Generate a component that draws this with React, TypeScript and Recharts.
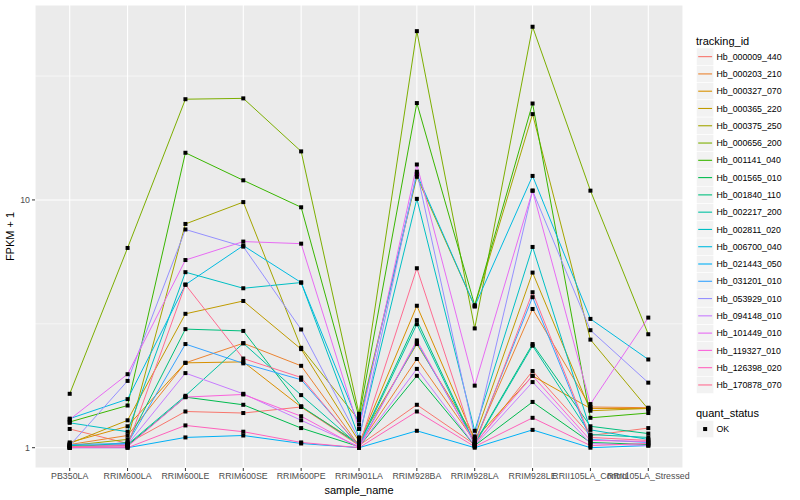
import React from 'react';
import { ComposedChart, Line, XAxis, YAxis, CartesianGrid, ReferenceLine } from 'recharts';

const categories = [
  'PB350LA', 'RRIM600LA', 'RRIM600LE', 'RRIM600SE', 'RRIM600PE', 'RRIM901LA',
  'RRIM928BA', 'RRIM928LA', 'RRIM928LE', 'RRII105LA_Control', 'RRII105LA_Stressed',
];

const trackingIds = [
  'Hb_000009_440', 'Hb_000203_210', 'Hb_000327_070', 'Hb_000365_220', 'Hb_000375_250',
  'Hb_000656_200', 'Hb_001141_040', 'Hb_001565_010', 'Hb_001840_110', 'Hb_002217_200',
  'Hb_002811_020', 'Hb_006700_040', 'Hb_021443_050', 'Hb_031201_010', 'Hb_053929_010',
  'Hb_094148_010', 'Hb_101449_010', 'Hb_119327_010', 'Hb_126398_020', 'Hb_170878_070',
];

const colors = [
  '#F8766D', '#EA8331', '#D89000', '#C09B00', '#A3A500',
  '#7CAE00', '#39B600', '#00BB4E', '#00BF7D', '#00C1A3',
  '#00BFC4', '#00BAE0', '#00B0F6', '#35A2FF', '#9590FF',
  '#C77CFF', '#E76BF3', '#FA62DB', '#FF62BC', '#FF6C91',
];

const s01 = [1.19, 1.04, 1.40, 1.38, 1.46, 1.02, 1.49, 1.03, 2.04, 1.12, 1.20];
const s02 = [1.03, 1.12, 2.20, 2.64, 2.14, 1.02, 2.28, 1.06, 3.63, 1.46, 1.45];
const s03 = [1.05, 1.22, 2.20, 2.22, 1.46, 1.04, 3.74, 1.08, 1.95, 1.44, 1.44];
const s04 = [1.04, 1.29, 3.47, 3.91, 2.50, 1.06, 2.62, 1.10, 5.09, 1.41, 1.44];
const s05 = [1.02, 1.08, 8.00, 9.80, 2.53, 1.29, 12.4, 3.72, 22.2, 2.73, 1.43];
const s06 = [1.65, 6.40, 25.5, 25.7, 15.7, 1.37, 48.0, 3.03, 50.0, 10.9, 2.87];
const s07 = [1.27, 1.48, 15.5, 12.0, 9.34, 1.33, 24.6, 3.76, 24.5, 1.32, 1.38];
const s08 = [1.01, 1.02, 1.60, 1.49, 1.20, 1.01, 1.95, 1.02, 1.53, 1.05, 1.03];
const s09 = [1.00, 1.05, 3.01, 2.96, 1.47, 1.03, 3.27, 1.04, 2.62, 1.22, 1.14];
const s10 = [1.02, 1.03, 1.62, 2.64, 1.63, 1.02, 3.15, 1.03, 2.58, 1.13, 1.10];
const s11 = [1.26, 1.16, 5.11, 4.40, 4.64, 1.10, 10.1, 1.17, 6.46, 1.18, 1.08];
const s12 = [1.31, 1.57, 4.55, 6.54, 4.64, 1.24, 12.7, 3.72, 12.5, 3.31, 2.27];
const s13 = [1.00, 1.00, 1.10, 1.12, 1.04, 1.00, 1.17, 1.00, 1.18, 1.00, 1.02];
const s14 = [1.03, 1.04, 2.62, 2.19, 1.88, 1.02, 2.66, 1.05, 4.05, 1.08, 1.05];
const s15 = [1.02, 1.86, 7.60, 6.48, 3.00, 1.08, 13.0, 1.11, 10.9, 2.98, 1.83];
const s16 = [1.00, 1.03, 2.00, 1.65, 1.29, 1.01, 2.08, 1.02, 1.84, 1.04, 1.02];
const s17 = [1.30, 1.98, 5.72, 6.79, 6.66, 1.19, 13.9, 1.78, 10.9, 1.50, 3.35];
const s18 = [1.00, 1.01, 1.60, 1.64, 1.34, 1.00, 2.71, 1.04, 1.95, 1.07, 1.06];
const s19 = [1.00, 1.00, 1.23, 1.16, 1.05, 1.00, 1.40, 1.01, 1.32, 1.02, 1.04];
const s20 = [1.01, 1.02, 4.55, 2.29, 1.92, 1.01, 5.30, 1.03, 4.24, 1.10, 1.07];

const seriesValues = [s01, s02, s03, s04, s05, s06, s07, s08, s09, s10, s11, s12, s13, s14, s15, s16, s17, s18, s19, s20];

const yTicks = [1, 10];
const yMinor = [3.1623, 31.623];
const xTicks = categories.map((_, i) => i);
const quantStatus = ['OK'];

const data = categories.map((name, i) => {
  const row: any = { x: i, name };
  trackingIds.forEach((id, k) => {
    row[id] = seriesValues[k][i];
  });
  return row;
});

const FONT = '"Liberation Sans", Arial, Helvetica, sans-serif';

const makeDot = (id: string) => (props: any) => {
  const { cx, cy, index } = props;
  if (cx == null || cy == null) return <g key={`${id}-${index}`} />;
  return <rect key={`${id}-${index}`} x={cx - 2} y={cy - 2} width={4} height={4} fill="#000000" />;
};

const Legend = () => {
  const top = 48;
  const rowH = 17.28;
  const boxX = 696.5;
  return (
    <svg width={800} height={500} style={{ position: 'absolute', left: 0, top: 0, pointerEvents: 'none' }}>
      <text x={696} y={44.5} fontFamily={FONT} fontSize={11} fill="#000000">tracking_id</text>
      {trackingIds.map((id, i) => {
        const y = top + i * rowH;
        return (
          <g key={id}>
            <rect x={boxX} y={y} width={rowH} height={rowH} fill="#F2F2F2" stroke="#FFFFFF" strokeWidth={0.6} />
            <line x1={boxX + 1.7} x2={boxX + rowH - 1.7} y1={y + rowH / 2} y2={y + rowH / 2} stroke={colors[i]} strokeWidth={1.1} />
            <text x={716.5} y={y + rowH / 2 + 3.1} fontFamily={FONT} fontSize={8.8} fill="#000000">{id}</text>
          </g>
        );
      })}
      <text x={696} y={416.5} fontFamily={FONT} fontSize={11} fill="#000000">quant_status</text>
      {quantStatus.map((q, i) => {
        const y = 420.4 + i * rowH;
        return (
          <g key={q}>
            <rect x={boxX} y={y} width={rowH} height={rowH} fill="#F2F2F2" stroke="#FFFFFF" strokeWidth={0.6} />
            <rect x={boxX + rowH / 2 - 2} y={y + rowH / 2 - 2} width={4} height={4} fill="#000000" />
            <text x={716.5} y={y + rowH / 2 + 3.1} fontFamily={FONT} fontSize={8.8} fill="#000000">{q}</text>
          </g>
        );
      })}
    </svg>
  );
};

export default function App() {
  return (
    <div style={{ position: 'absolute', left: 0, top: 0, width: 800, height: 500, background: '#FFFFFF', fontFamily: FONT }}>
      <ComposedChart width={800} height={500} data={data} margin={{ top: 5, right: 117, bottom: 0, left: 0 }}>
        <CartesianGrid fill="#EBEBEB" stroke="#FFFFFF" strokeWidth={1.1} />
        {yMinor.map((v) => (
          <ReferenceLine key={v} y={v} stroke="#FFFFFF" strokeWidth={0.55} />
        ))}
        <XAxis
          dataKey="x"
          type="number"
          domain={[-0.6, 10.6]}
          ticks={xTicks}
          interval={0}
          allowDataOverflow
          tickFormatter={(v: number) => categories[v]}
          axisLine={false}
          tickLine={{ stroke: '#333333' }}
          tickSize={3}
          tick={{ fill: '#4D4D4D', fontSize: 8.8, fontFamily: FONT }}
          height={32}
          label={(p: any) => {
            const vb = p.viewBox || {};
            return (
              <text x={vb.x + vb.width / 2} y={vb.y + 26} textAnchor="middle" fontFamily={FONT} fontSize={11} fill="#000000">
                sample_name
              </text>
            );
          }}
        />
        <YAxis
          scale="log"
          domain={[0.828, 61.2]}
          allowDataOverflow
          ticks={yTicks}
          interval={0}
          width={35}
          axisLine={false}
          tickLine={{ stroke: '#333333' }}
          tickSize={3}
          tick={{ fill: '#4D4D4D', fontSize: 8.8, fontFamily: FONT }}
          label={(p: any) => {
            const vb = p.viewBox || {};
            const cy = vb.y + vb.height / 2;
            return (
              <text x={14} y={cy} transform={`rotate(-90, 14, ${cy})`} textAnchor="middle" fontFamily={FONT} fontSize={11} fill="#000000">
                FPKM + 1
              </text>
            );
          }}
        />
        {trackingIds.map((id, k) => (
          <Line
            key={`l-${id}`}
            dataKey={id}
            stroke={colors[k]}
            strokeWidth={1}
            dot={false}
            activeDot={false}
            isAnimationActive={false}
          />
        ))}
        {trackingIds.map((id) => (
          <Line
            key={`p-${id}`}
            dataKey={id}
            stroke="none"
            dot={makeDot(id)}
            activeDot={false}
            isAnimationActive={false}
          />
        ))}
      </ComposedChart>
      <Legend />
    </div>
  );
}
